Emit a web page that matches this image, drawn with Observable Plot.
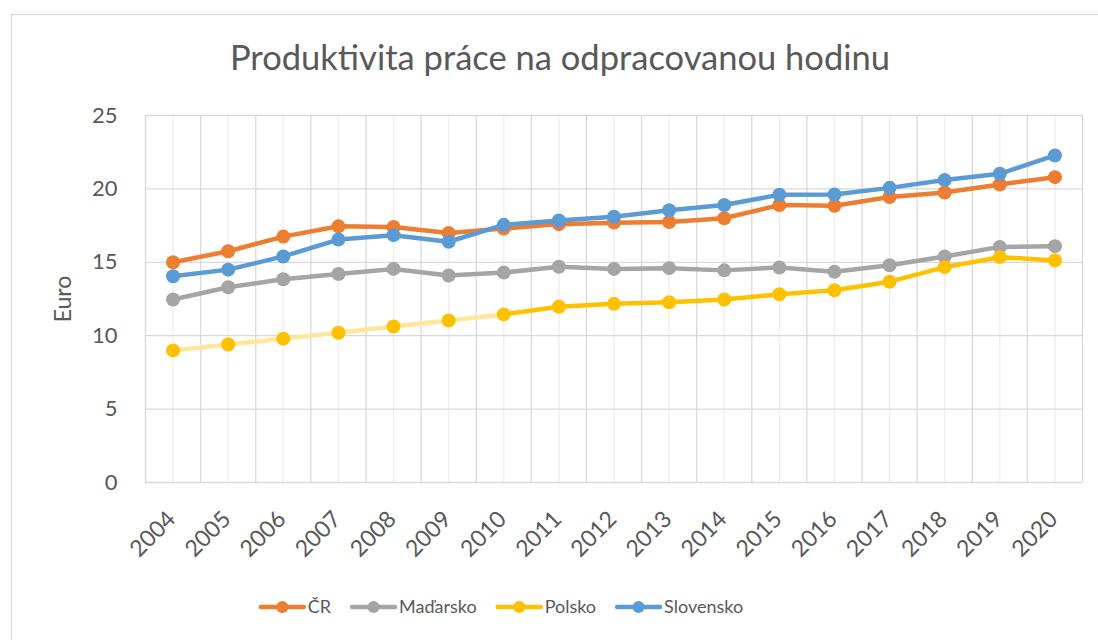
<!DOCTYPE html>
<html>
<head>
<meta charset="utf-8">
<script src="https://cdn.jsdelivr.net/npm/d3@7"></script>
<script src="https://cdn.jsdelivr.net/npm/@observablehq/plot@0.6"></script>
<style>
  html, body { margin: 0; padding: 0; background: #fff; }
  #chart { width: 1098px; height: 640px; overflow: hidden; }
</style>
</head>
<body>
<div id="chart"></div>
<script>
// ---- data ----
const title = "Produktivita práce na odpracovanou hodinu";
const yLabel = "Euro";
const years = [2004, 2005, 2006, 2007, 2008, 2009, 2010, 2011, 2012, 2013, 2014, 2015, 2016, 2017, 2018, 2019, 2020];
const yTicks = [0, 5, 10, 15, 20, 25];
const countries = ["ČR", "Maďarsko", "Polsko", "Slovensko"];
const colors = ["#ED7D31", "#A5A5A5", "#FFC000", "#5B9BD5"];
const cr = [15.0, 15.75, 16.75, 17.45, 17.4, 17.0, 17.3, 17.6, 17.7, 17.75, 18.0, 18.9, 18.85, 19.45, 19.75, 20.3, 20.8];
const hu = [12.47, 13.3, 13.85, 14.2, 14.55, 14.1, 14.3, 14.7, 14.55, 14.6, 14.45, 14.65, 14.35, 14.8, 15.4, 16.05, 16.1];
const pl = [9.0, 9.4, 9.8, 10.2, 10.63, 11.04, 11.45, 11.97, 12.17, 12.28, 12.47, 12.82, 13.1, 13.68, 14.67, 15.35, 15.13];
const sk = [14.05, 14.5, 15.4, 16.55, 16.85, 16.4, 17.55, 17.85, 18.1, 18.55, 18.9, 19.6, 19.62, 20.07, 20.6, 21.03, 22.28];
const plLightUntil = 2010;      // Polsko line drawn in a light tint up to this year
const plLightColor = "#FFE699";

// ---- build table ----
const seriesValues = [cr, hu, pl, sk];
const rows = [];
countries.forEach((c, ci) => years.forEach((yr, i) => rows.push({country: c, year: yr, value: seriesValues[ci][i]})));
const boundaries = years.map(y => y - 0.5).concat([years[years.length - 1] + 0.5]);

const FONT = "Lato, 'Open Sans', 'Noto Sans', sans-serif";
const TEXT = "#595959";

const seriesMarks = [];
countries.forEach((c, ci) => {
  const data = rows.filter(r => r.country === c);
  if (c === "Polsko") {
    seriesMarks.push(Plot.line(data.filter(r => r.year <= plLightUntil), {x: "year", y: "value", stroke: plLightColor, strokeWidth: 4.5, strokeLinecap: "round", strokeLinejoin: "round"}));
    seriesMarks.push(Plot.line(data.filter(r => r.year >= plLightUntil), {x: "year", y: "value", stroke: colors[ci], strokeWidth: 4.5, strokeLinecap: "round", strokeLinejoin: "round"}));
  } else {
    seriesMarks.push(Plot.line(data, {x: "year", y: "value", stroke: colors[ci], strokeWidth: 4.5, strokeLinecap: "round", strokeLinejoin: "round"}));
  }
  seriesMarks.push(Plot.dot(data, {x: "year", y: "value", r: 7, fill: colors[ci], stroke: "none"}));
});

const chart = Plot.plot({
  width: 1098,
  height: 640,
  marginLeft: 145,
  marginRight: 16,
  marginTop: 115,
  marginBottom: 158,
  style: {fontFamily: FONT, fontSize: "22px", color: TEXT, background: "#fff", overflow: "visible"},
  x: {domain: [years[0] - 0.5, years[years.length - 1] + 0.5], axis: null},
  y: {domain: [0, 25], ticks: yTicks, tickSize: 0, tickPadding: 28, label: null},
  marks: [
    Plot.ruleX(years, {stroke: "#EFEFEF", strokeWidth: 1.3}),
    Plot.ruleX(boundaries, {stroke: "#D9D9D9", strokeWidth: 1.3}),
    Plot.ruleY(yTicks, {stroke: "#D9D9D9", strokeWidth: 1.3}),
    ...seriesMarks,
    Plot.text(years, {x: d => d, text: d => String(d), frameAnchor: "bottom", dy: 38, dx: 4, rotate: -45, textAnchor: "end", lineAnchor: "bottom", fill: TEXT, fontSize: 23}),
    Plot.text([yLabel], {frameAnchor: "left", dx: -82, rotate: -90, textAnchor: "middle", lineAnchor: "middle", fill: TEXT, fontSize: 23})
  ]
});

document.getElementById("chart").appendChild(chart);

const svg = d3.select(chart);
// chart border
svg.insert("rect", ":first-child")
  .attr("x", 11.5).attr("y", 14.5).attr("width", 1200).attr("height", 800)
  .attr("fill", "#fff").attr("stroke", "#D9D9D9").attr("stroke-width", 1.3);

// title
const t = svg.append("text")
  .attr("x", 560).attr("y", 70).attr("text-anchor", "middle")
  .attr("fill", TEXT).style("font-family", FONT).style("font-size", "31px")
  .text(title);
const tw = t.node().getComputedTextLength();
if (tw > 0) t.style("font-size", (31 * 660 / tw).toFixed(2) + "px");

// legend
const lg = svg.append("g");
let xPos = 0;
countries.forEach((c, ci) => {
  const g = lg.append("g").attr("transform", `translate(${xPos},0)`);
  g.append("line").attr("x1", 0).attr("x2", 43).attr("y1", 0).attr("y2", 0)
    .attr("stroke", colors[ci]).attr("stroke-width", 4.5).attr("stroke-linecap", "round");
  g.append("circle").attr("cx", 21.5).attr("cy", 0).attr("r", 6).attr("fill", colors[ci]);
  const tx = g.append("text").attr("x", 47).attr("y", 0).attr("dy", "0.35em")
    .attr("text-anchor", "start")
    .attr("fill", TEXT).style("font-family", FONT).style("font-size", "18px").text(c);
  xPos += 47 + tx.node().getComputedTextLength() + 21;
});
const totalW = xPos - 21;
lg.attr("transform", `translate(${(502 - totalW / 2).toFixed(1)},607)`);
</script>
</body>
</html>
